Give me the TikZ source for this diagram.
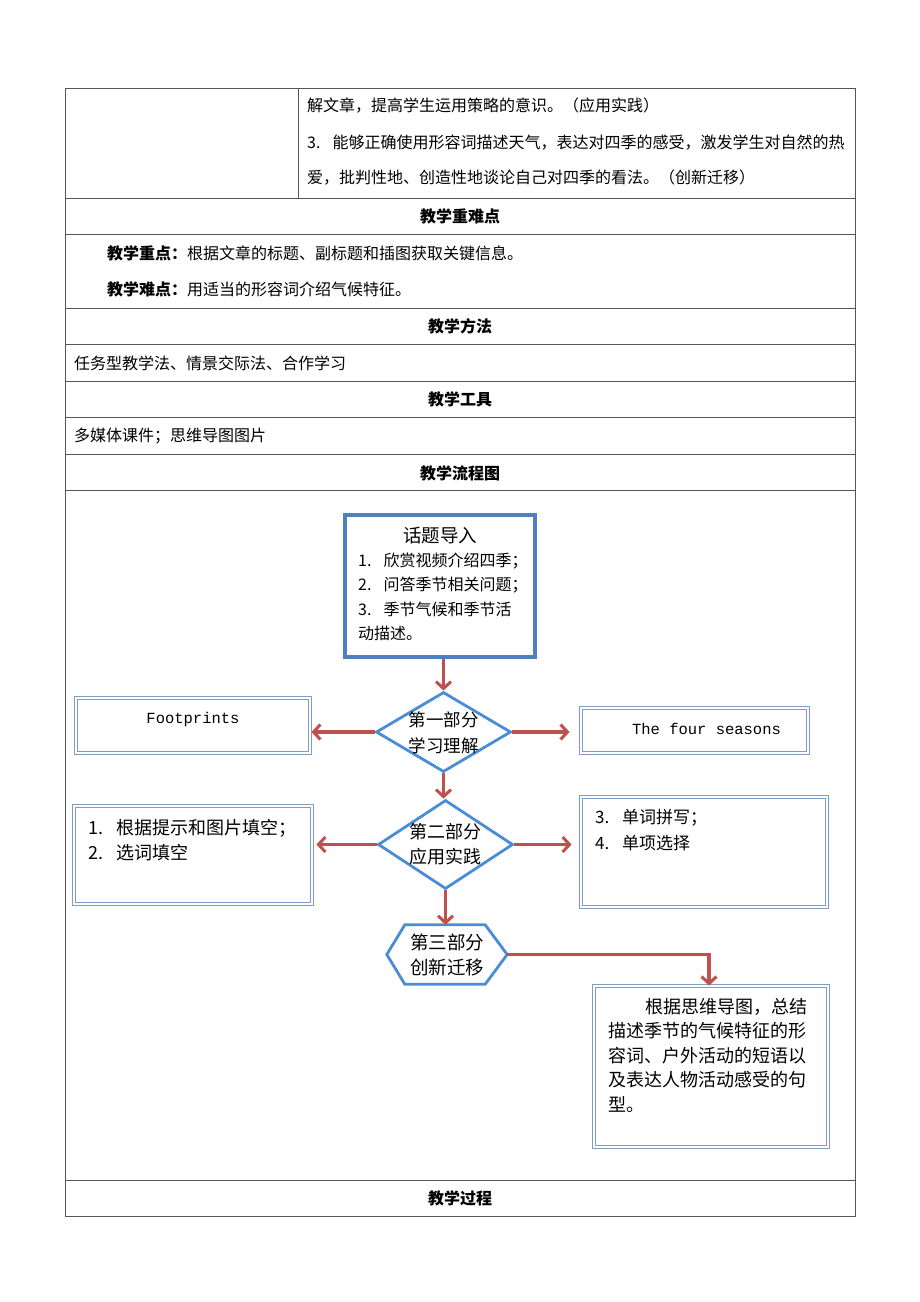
\documentclass[tikz,border=0pt]{standalone}
\usepackage{fontspec}
\setmainfont{Noto Sans CJK SC}
\newfontfamily\monofont{Liberation Mono}
\usetikzlibrary{arrows.meta,shapes.geometric}
\definecolor{tline}{HTML}{555555}
\definecolor{boxblue}{HTML}{4F81BD}
\definecolor{diablue}{HTML}{4A8CD6}
\definecolor{arrred}{HTML}{C0504D}
\definecolor{dblblue}{HTML}{7F9CC8}
\newcommand{\numgap}{\hspace{0.75em}}
\tikzset{
  txt/.style={inner sep=0pt, anchor=west, font=\fontsize{16}{16}\selectfont},
  hdr/.style={inner sep=0pt, font=\fontsize{16}{16}\selectfont\bfseries},
  tab/.style={draw=tline, line width=1pt},
  arr/.style={draw=arrred, line width=3.6pt, -{Straight Barb[length=7pt,width=15pt,line width=3pt]}},
  topbox/.style={draw=boxblue, line width=3.2pt, minimum width=190pt, minimum height=142pt, inner sep=0pt},
  dia/.style={diamond, draw=diablue, line width=2.8pt, minimum width=135pt, minimum height=80pt, inner sep=0pt},
  dtxt/.style={inner sep=0pt, align=center, font=\fontsize{17.5}{26}\selectfont},
  dbl/.style={draw=dblblue, line width=0.8pt, double=white, double distance=1.6pt, inner sep=0pt},
  mono/.style={inner sep=0pt, font=\monofont\fontsize{15.5}{15.5}\selectfont},
  ftxt/.style={inner sep=0pt, anchor=west, font=\fontsize{17}{17}\selectfont},
  gtxt/.style={inner sep=0pt, anchor=west, font=\fontsize{18}{18}\selectfont}
}
\begin{document}
\begin{tikzpicture}[x=1pt,y=-1pt]
\useasboundingbox (0,0) rectangle (920,1302);
\fill[white] (0,0) rectangle (920,1302);
% table
\draw[tab] (65,88) rectangle (855,1216);
\foreach \yy in {198,234,308,344,381,417,454,490,1180}{\draw[tab] (65,\yy) -- (855,\yy);}
\draw[tab] (298,88) -- (298,198);
% row 1
\node[txt] (r1a) at (307,106) {解文章，提高学生运用策略的意识。（应用实践）};
\node[txt] (r1b) at (307,143) {3.\numgap 能够正确使用形容词描述天气，表达对四季的感受，激发学生对自然的热};
\node[txt] (r1c) at (307,178) {爱，批判性地、创造性地谈论自己对四季的看法。（创新迁移）};
% headers and rows
\node[hdr] (h1) at (460,216) {教学重难点};
\node[txt] (k1) at (107,253) {\textbf{教学重点：}根据文章的标题、副标题和插图获取关键信息。};
\node[txt] (k2) at (107,289) {\textbf{教学难点：}用适当的形容词介绍气候特征。};
\node[hdr] (h2) at (460,326) {教学方法};
\node[txt] (m1) at (74,363) {任务型教学法、情景交际法、合作学习};
\node[hdr] (h3) at (460,399) {教学工具};
\node[txt] (t1) at (74,436) {多媒体课件；思维导图图片};
\node[hdr] (h4) at (460,473) {教学流程图};
\node[hdr] (h5) at (460,1198) {教学过程};
% flowchart
\node[topbox] (top) at (440,586) {};
\node[inner sep=0pt, font=\fontsize{18.5}{18.5}\selectfont] (tt0) at (440,536) {话题导入};
\node[txt] (tt1) at (358,561) {1.\numgap 欣赏视频介绍四季；};
\node[txt] (tt2) at (358,585) {2.\numgap 问答季节相关问题；};
\node[txt] (tt3) at (358,609) {3.\numgap 季节气候和季节活};
\node[txt] (tt4) at (358,633) {动描述。};
\node[dia] (d1) at (443.5,732) {};
\node[dtxt] (d1t) at (443.5,733) {第一部分\\学习理解};
\node[dbl, minimum width=234pt, minimum height=55pt] (fp) at (193,725.5) {};
\node[mono] (fpt) at (193,719) {Footprints};
\node[dbl, minimum width=227pt, minimum height=45pt] (fs) at (694.5,730.5) {};
\node[mono] (fst) at (706.5,729) {The four seasons};
\node[dia, minimum height=89pt] (d2) at (445.5,844.5) {};
\node[dtxt, font=\fontsize{18}{25}\selectfont] (d2t) at (445.5,844.5) {第二部分\\应用实践};
\node[dbl, minimum width=238pt, minimum height=98pt] (b2l) at (193,855) {};
\node[ftxt, font=\fontsize{18}{18}\selectfont] (b2l1) at (88,828) {1.\numgap 根据提示和图片填空；};
\node[ftxt, font=\fontsize{18}{18}\selectfont] (b2l2) at (88,853) {2.\numgap 选词填空};
\node[dbl, minimum width=246pt, minimum height=110pt] (b2r) at (704,852) {};
\node[ftxt] (b2r1) at (595,818) {3.\numgap 单词拼写；};
\node[ftxt] (b2r2) at (595,843) {4.\numgap 单项选择};
\node[dtxt, font=\fontsize{18.5}{25}\selectfont, minimum width=120pt, minimum height=59pt] (hex) at (447,954.5) {第三部分\\创新迁移};
\draw[draw=diablue, line width=2.8pt, line join=miter] (hex.west) -- ([xshift=18pt]hex.north west) -- ([xshift=-22pt]hex.north east) -- (hex.east) -- ([xshift=-22pt]hex.south east) -- ([xshift=18pt]hex.south west) -- cycle;
\node[dbl, minimum width=234pt, minimum height=161pt] (fb) at (711,1066.5) {};
\node[gtxt] (fb1) at (645,1007) {根据思维导图，总结};
\node[gtxt] (fb2) at (608,1031) {描述季节的气候特征的形};
\node[gtxt] (fb3) at (608,1056) {容词、户外活动的短语以};
\node[gtxt] (fb4) at (608,1080) {及表达人物活动感受的句};
\node[gtxt] (fb5) at (608,1105) {型。};
% arrows
\draw[arr] (d1.north |- top.south) -- (d1.north);
\draw[arr, shorten >=1pt] (d1.west) -- (d1.west -| fp.east);
\draw[arr, shorten >=11pt] (d1.east) -- (d1.east -| fs.west);
\draw[arr] (d1.south) -- (d1.south |- d2.north);
\draw[arr, shorten >=4pt] (d2.west) -- (d2.west -| b2l.east);
\draw[arr, shorten >=9pt] (d2.east) -- (d2.east -| b2r.west);
\draw[arr] (d2.south) -- (d2.south |- hex.north);
\draw[arr] (hex.east) -| ([xshift=-2pt]fb.north);
\end{tikzpicture}
\end{document}
